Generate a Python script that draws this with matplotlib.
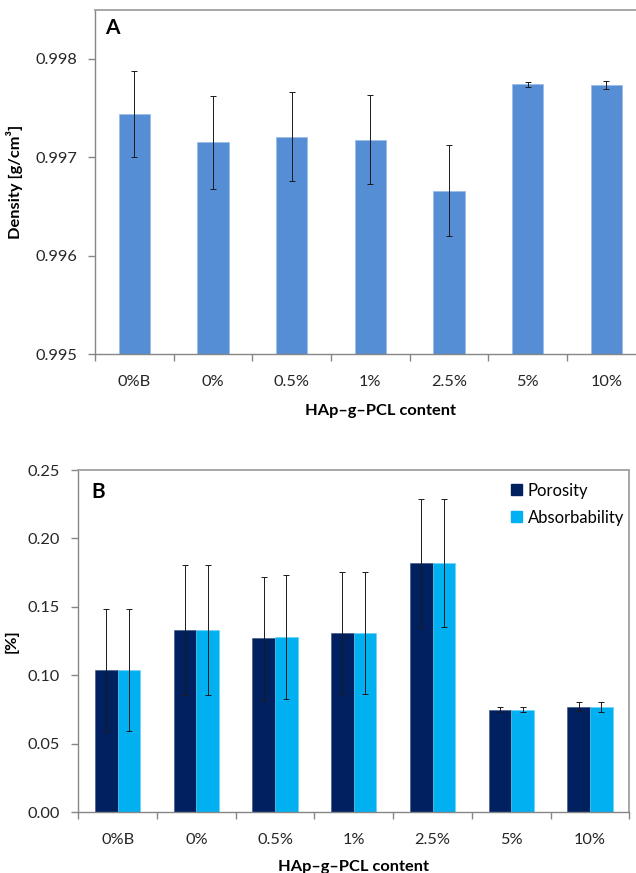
import numpy as np
import matplotlib
matplotlib.use("Agg")
import matplotlib.pyplot as plt
from matplotlib.patches import Patch

plt.rcParams['font.family'] = ['Lato', 'DejaVu Sans']

categories = ['0%B', '0%', '0.5%', '1%', '2.5%', '5%', '10%']
density = [0.99744, 0.99715, 0.99721, 0.99718, 0.99666, 0.99774, 0.99773]
density_err = [0.00044, 0.00047, 0.00045, 0.00045, 0.00046, 0.000025, 0.00004]
porosity = [0.104, 0.133, 0.127, 0.131, 0.182, 0.075, 0.077]
porosity_err = [0.0445, 0.0475, 0.0447, 0.0444, 0.0469, 0.002, 0.0033]
absorbability = [0.104, 0.133, 0.128, 0.131, 0.182, 0.075, 0.077]
absorbability_err = [0.0445, 0.0475, 0.045, 0.0446, 0.047, 0.002, 0.0035]

x = np.arange(len(categories))
tick_color = '#262626'
spine_color = '#868686'
frame_color = '#A6A6A6'
err_kw = dict(ecolor='#1a1a1a', elinewidth=0.7, capsize=2.2, capthick=0.7)

fig = plt.figure(figsize=(6.36, 8.73), dpi=100)


def style_axes(ax):
    ax.set_xlim(-0.5, len(categories) - 0.5)
    ax.set_xticks(np.arange(len(categories) + 1) - 0.5)
    ax.set_xticklabels([])
    ax.set_xticks(x, minor=True)
    ax.set_xticklabels(categories, minor=True)
    ax.tick_params(axis='x', which='major', length=5, width=1, color=spine_color, direction='out')
    ax.tick_params(axis='x', which='minor', length=0, pad=15, labelsize=11.8, labelcolor=tick_color)
    ax.tick_params(axis='y', length=5, width=1, color=spine_color, pad=8, labelsize=11.8, labelcolor=tick_color)
    for s in ['left', 'bottom']:
        ax.spines[s].set_color(spine_color)
        ax.spines[s].set_linewidth(1)
    for s in ['top', 'right']:
        ax.spines[s].set_color(frame_color)
        ax.spines[s].set_linewidth(1.4)


# panel A
axA = fig.add_axes([0.1494, 0.5942, 0.8657, 0.3949])
axA.bar(x, density, width=0.4, color='#558ED5', edgecolor='#9DBDE8', linewidth=0.6,
        yerr=density_err, error_kw=err_kw, zorder=2)
axA.set_ylim(0.995, 0.9985)
axA.set_yticks([0.995, 0.996, 0.997, 0.998])
axA.yaxis.set_major_formatter(matplotlib.ticker.FormatStrFormatter('%.3f'))
style_axes(axA)
axA.set_xlabel('HAp–g–PCL content', fontsize=11.8, fontweight='bold')
axA.xaxis.set_label_coords(0.5185, -0.144)
axA.set_ylabel('Density [g/cm³]', fontsize=11.8, fontweight='bold')
axA.yaxis.set_label_coords(-0.130, 0.5)
axA.text(0.018, 0.928, 'A', transform=axA.transAxes, fontsize=15, fontweight='bold')

# panel B
axB = fig.add_axes([0.1231, 0.0695, 0.8664, 0.3921])
w = 0.288
axB.bar(x - w / 2, porosity, width=w, color='#002060', edgecolor='#3a4f80', linewidth=0.4,
        yerr=porosity_err, error_kw=err_kw, zorder=2, label='Porosity')
axB.bar(x + w / 2, absorbability, width=w, color='#00B0F0', edgecolor='#66d0f6', linewidth=0.4,
        yerr=absorbability_err, error_kw=err_kw, zorder=2, label='Absorbability')
axB.set_ylim(0, 0.25)
axB.set_yticks(np.arange(0, 0.26, 0.05))
axB.yaxis.set_major_formatter(matplotlib.ticker.FormatStrFormatter('%.2f'))
style_axes(axB)
axB.set_xlabel('HAp–g–PCL content', fontsize=11.8, fontweight='bold')
axB.xaxis.set_label_coords(0.5, -0.139)
axB.set_ylabel('[%]', fontsize=11.8, fontweight='bold')
axB.yaxis.set_label_coords(-0.109, 0.5)
axB.text(0.0243, 0.917, 'B', transform=axB.transAxes, fontsize=15, fontweight='bold')

handles = [Patch(color='#002060'), Patch(color='#00B0F0')]
axB.legend(handles, ['Porosity', 'Absorbability'], loc='upper left',
           bbox_to_anchor=(0.7853, 0.963), frameon=False, borderpad=0,
           fontsize=12, handlelength=0.65, handleheight=0.65,
           handletextpad=0.35, labelspacing=0.65, borderaxespad=0)

fig.savefig('out.png', dpi=100)
